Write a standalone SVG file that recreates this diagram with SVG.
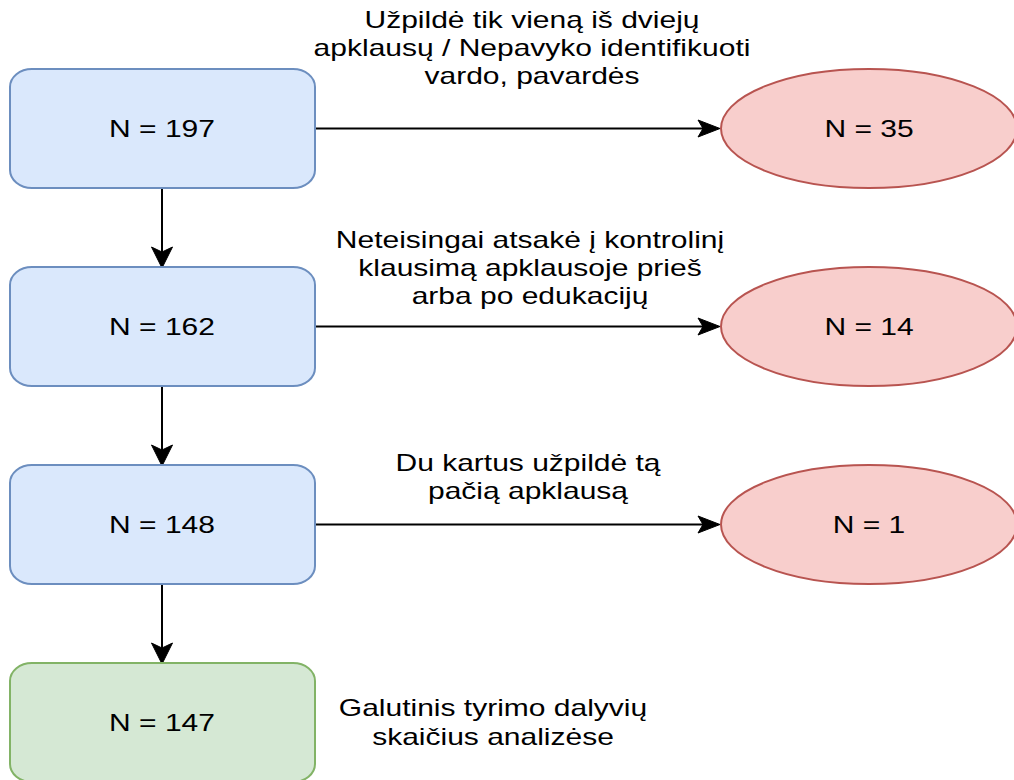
<svg xmlns="http://www.w3.org/2000/svg" width="1014" height="780" viewBox="0 0 1014 780">
<style>
.t{font-family:"Liberation Sans",Arial,Helvetica,sans-serif;font-size:24px;fill:#000;text-anchor:middle}
.blue{fill:#dae8fc;stroke:#6c8ebf;stroke-width:2}
.red{fill:#f8cecc;stroke:#b85450;stroke-width:2}
.green{fill:#d5e8d4;stroke:#82b366;stroke-width:2}
.ln{fill:none;stroke:#000;stroke-width:2}
.hd{fill:#000;stroke:#000;stroke-width:1}
</style>
<rect width="1014" height="780" fill="#fff"/>
<g id="connectors">
<path class="ln" d="M162 188 V252"/><path class="hd" d="M162 268 L151.5 247 L162 252 L172.5 247 Z"/>
<path class="ln" d="M162 386 V450"/><path class="hd" d="M162 466 L151.5 445 L162 450 L172.5 445 Z"/>
<path class="ln" d="M162 584 V648"/><path class="hd" d="M162 664 L151.5 643 L162 648 L172.5 643 Z"/>
<path class="ln" d="M316 128.5 H703"/><path class="hd" d="M720 128.5 L698 120 L703 128.5 L698 137 Z"/>
<path class="ln" d="M316 326.5 H703"/><path class="hd" d="M720 326.5 L698 318 L703 326.5 L698 335 Z"/>
<path class="ln" d="M316 524.5 H703"/><path class="hd" d="M720 524.5 L698 516 L703 524.5 L698 533 Z"/>
</g>
<g id="n197"><rect class="blue" x="10" y="69" width="305" height="119" rx="22" ry="18"/><text class="t" transform="translate(162 137) scale(1.25 1)">N = 197</text></g>
<g id="n162"><rect class="blue" x="10" y="267" width="305" height="119" rx="22" ry="18"/><text class="t" transform="translate(162 335) scale(1.25 1)">N = 162</text></g>
<g id="n148"><rect class="blue" x="10" y="465" width="305" height="119" rx="22" ry="18"/><text class="t" transform="translate(162 533) scale(1.25 1)">N = 148</text></g>
<g id="n147"><rect class="green" x="10" y="663" width="305" height="119" rx="22" ry="18"/><text class="t" transform="translate(162 731) scale(1.25 1)">N = 147</text></g>
<g id="n35"><ellipse class="red" cx="869" cy="128.5" rx="148" ry="59.5"/><text class="t" transform="translate(869 137) scale(1.25 1)">N = 35</text></g>
<g id="n14"><ellipse class="red" cx="869" cy="326.5" rx="148" ry="59.5"/><text class="t" transform="translate(869 335) scale(1.25 1)">N = 14</text></g>
<g id="n1"><ellipse class="red" cx="869" cy="524.5" rx="148" ry="59.5"/><text class="t" transform="translate(869 533) scale(1.25 1)">N = 1</text></g>
<g id="labels">
<text class="t" transform="translate(532 0) scale(1.25 1)"><tspan x="0" y="28">Užpildė tik vieną iš dviejų</tspan><tspan x="0" y="56">apklausų / Nepavyko identifikuoti</tspan><tspan x="0" y="84">vardo, pavardės</tspan></text>
<text class="t" transform="translate(530 0) scale(1.25 1)"><tspan x="0" y="248">Neteisingai atsakė į kontrolinį</tspan><tspan x="0" y="276">klausimą apklausoje prieš</tspan><tspan x="0" y="304">arba po edukacijų</tspan></text>
<text class="t" transform="translate(528 0) scale(1.25 1)"><tspan x="0" y="471">Du kartus užpildė tą</tspan><tspan x="0" y="499">pačią apklausą</tspan></text>
<text class="t" transform="translate(493 0) scale(1.25 1)"><tspan x="0" y="716">Galutinis tyrimo dalyvių</tspan><tspan x="0" y="745">skaičius analizėse</tspan></text>
</g>
</svg>
